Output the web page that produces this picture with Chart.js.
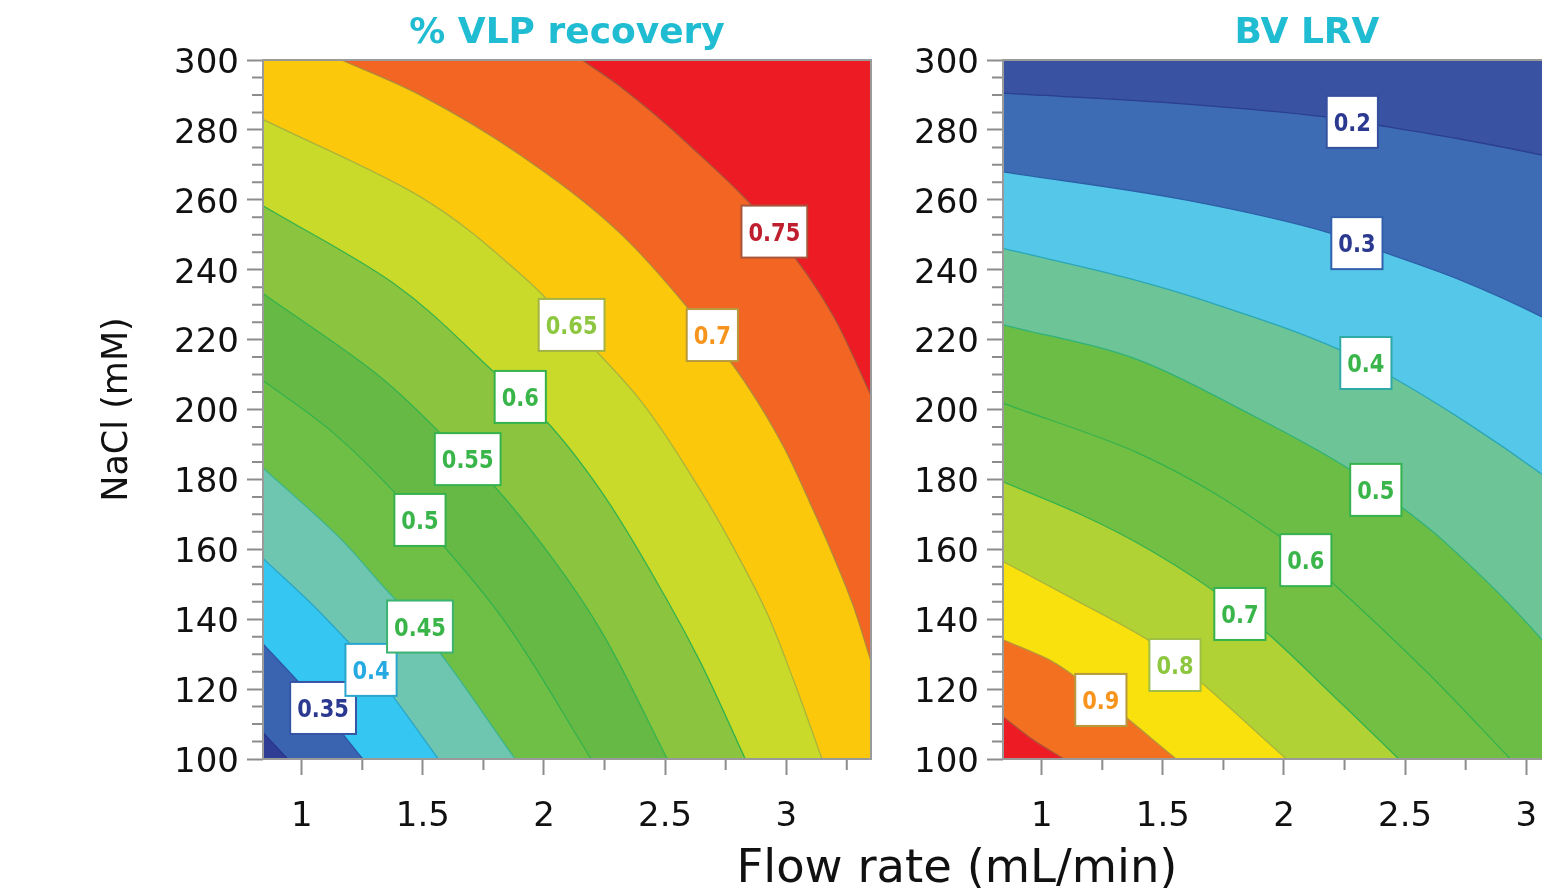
<!DOCTYPE html>
<html>
<head>
<meta charset="utf-8">
<title>VLP recovery / BV LRV contours</title>
<script src="https://cdn.jsdelivr.net/npm/chart.js@4.4.1/dist/chart.umd.min.js"></script>
<style>
    html, body { margin: 0; padding: 0; background: #fff; overflow: hidden; width: 1542px; height: 888px; }
    #vlp-chart { position: absolute; left: 0; top: 0; }
    #bv-chart { position: absolute; left: 880px; top: 0; }
    #flow-title {
        position: absolute; left: 957px; top: 843px; transform: translateX(-50%);
        font: 46.5px 'DejaVu Sans', Verdana, sans-serif; line-height: 46px;
        white-space: nowrap; color: #111;
    }
</style>
</head>
<body>
<canvas id="vlp-chart" width="880" height="888"></canvas>
<canvas id="bv-chart" width="760" height="888"></canvas>
<div id="flow-title">Flow rate (mL/min)</div>
<script>
(function () {
    'use strict';

    // Axis ranges: flow rate (mL/min) and NaCl (mM)
    const flowMin = 0.84, flowMax = 3.35;
    const naclMin = 100, naclMax = 300;

    // % VLP recovery contour lines, points as [flow rate, NaCl]
    const vlp030 = [[0.84, 107.5], [0.942, 100]];
    const vlp035 = [[0.84, 132.9], [0.979, 122.6], [1.084, 114.3], [1.252, 100]];
    const vlp040 = [[0.84, 157.4], [1.075, 142.0], [1.286, 126.0], [1.564, 100]];
    const vlp045 = [[0.84, 183.3], [1.165, 162.7], [1.323, 150.4], [1.488, 137.8], [1.881, 100]];
    const vlp050 = [[0.84, 208.3], [1.117, 194.1], [1.488, 168.4], [1.819, 141.2], [2.195, 100]];
    const vlp055 = [[0.84, 233.2], [1.323, 209.4], [1.683, 185.6], [1.790, 178.4], [2.038, 157.1], [2.232, 137.1], [2.509, 100]];
    const vlp060 = [[0.84, 258.3], [1.377, 236.2], [1.798, 210.4], [2.005, 197.0], [2.232, 177.0], [2.508, 145.5], [2.645, 127.8], [2.831, 100]];
    const vlp065 = [[0.84, 283.0], [1.488, 260.9], [1.929, 237.1], [2.112, 224.2], [2.397, 202.7], [2.645, 177.0], [2.783, 160.4], [2.921, 141.7], [3.030, 122.6], [3.148, 100]];
    const vlp070 = [[1.165, 300], [1.488, 290.0], [1.902, 272.8], [2.315, 250.4], [2.590, 229.4], [2.824, 208.4], [2.989, 189.4], [3.099, 173.2], [3.196, 157.9], [3.278, 143.6], [3.35, 128.0]];
    const vlp075 = [[2.158, 300], [2.315, 292.4], [2.604, 275.4], [2.947, 251.4], [3.196, 226.6], [3.35, 204.1]];

    // BV LRV contour lines, points as [flow rate, NaCl]
    const bv020 = [[0.84, 290.5], [1.599, 287.4], [2.173, 283.7], [2.383, 281.4], [2.726, 277.4], [3.065, 272.8], [3.35, 268.2]];
    const bv030 = [[0.84, 268.0], [1.599, 259.9], [2.190, 250.5], [2.409, 245.1], [2.727, 237.1], [3.065, 226.5], [3.35, 215.6]];
    const bv040 = [[0.84, 246.1], [1.383, 237.1], [1.665, 231.3], [2.233, 217.0], [2.446, 209.3], [2.751, 196.4], [3.065, 181.5], [3.35, 166.4]];
    const bv050 = [[0.84, 224.2], [1.398, 214.2], [1.826, 199.9], [2.275, 182.7], [2.483, 172.2], [2.654, 162.7], [3.065, 134.1], [3.35, 108.3]];
    const bv060 = [[0.84, 201.8], [1.396, 187.6], [1.983, 163.6], [2.202, 150.3], [2.594, 124.6], [2.935, 100]];
    const bv070 = [[0.84, 179.3], [1.157, 170.1], [1.446, 159.8], [1.818, 142.6], [2.222, 116.9], [2.474, 100]];
    const bv080 = [[0.84, 156.5], [1.114, 146.4], [1.440, 134.0], [1.549, 128.3], [2.010, 100]];
    const bv090 = [[0.84, 134.1], [1.033, 128.3], [1.252, 117.2], [1.555, 100]];
    const bv100 = [[0.84, 112.1], [0.966, 105.4], [1.092, 100]];

    // Contour labels (text and anchor in data units)
    const vlpLabels = ['0.35', '0.4', '0.45', '0.5', '0.55', '0.6', '0.65', '0.7', '0.75'];
    const vlpLabelFlow = [1.088, 1.286, 1.488, 1.488, 1.685, 1.902, 2.114, 2.695, 2.951];
    const vlpLabelNacl = [114.6, 125.5, 137.9, 168.4, 185.8, 203.6, 224.2, 221.3, 250.9];
    const bvLabels = ['0.2', '0.3', '0.4', '0.5', '0.6', '0.7', '0.8', '0.9'];
    const bvLabelFlow = [2.282, 2.301, 2.338, 2.379, 2.090, 1.818, 1.550, 1.244];
    const bvLabelNacl = [282.3, 247.6, 213.3, 177.0, 156.9, 141.5, 126.9, 116.9];

    // Styles
    const FONT = "'DejaVu Sans', Verdana, sans-serif";
    const TICK_GRAY = '#8c8c8c';
    const TITLE_COLOR = '#20bcd2';
    const NAVY = '#2b3990', SKY = '#27aae1', GREEN = '#39b54a', LIME = '#8dc63f', ORANGE = '#f7941d', CRIMSON = '#be1e2d';

    const vlpLabelColor = [NAVY, SKY, GREEN, GREEN, GREEN, GREEN, LIME, ORANGE, CRIMSON];
    const vlpLabelBorder = ['#3556a6', '#2aa5cc', '#3cb371', '#35b24c', '#35b24c', '#35b24c', '#a4b443', '#b79a3e', '#a8553c'];
    const bvLabelColor = [NAVY, NAVY, GREEN, GREEN, GREEN, GREEN, LIME, ORANGE];
    const bvLabelBorder = ['#34509f', '#3160ad', '#2fa9a6', '#35b24c', '#35b24c', '#35b24c', '#9fbf45', '#b79a3e'];

    function toPoints(arr) {
        return arr.map(p => ({ x: p[0], y: p[1] }));
    }

    function lineBase(points, fillColor, lineColor) {
        return {
            data: toPoints(points),
            backgroundColor: fillColor,
            borderColor: lineColor,
            borderWidth: 1.3,
            pointRadius: 0,
            pointHoverRadius: 0,
            cubicInterpolationMode: 'monotone'
        };
    }

    // Contour that runs from the left edge to the bottom edge:
    // fill the lower-left side, towards the left edge
    function lowerLeft(points, fillColor, lineColor) {
        return Object.assign(lineBase(points, fillColor, lineColor), {
            indexAxis: 'y',
            fill: { value: flowMin }
        });
    }

    // Contour that reaches the right edge: fill everything above it
    function upperSide(points, fillColor, lineColor) {
        return Object.assign(lineBase(points, fillColor, lineColor), {
            indexAxis: 'x',
            fill: 'end'
        });
    }

    function scalesFor(yWidth, showTitle) {
        const tickFont = { family: FONT, size: 34 };
        const grid = { drawOnChartArea: false, drawTicks: true, tickLength: 16, tickWidth: 2, tickColor: TICK_GRAY };
        return {
            x: {
                type: 'linear',
                min: flowMin,
                max: flowMax,
                ticks: {
                    stepSize: 0.5, includeBounds: false, padding: 22, color: '#111', font: tickFont,
                    maxRotation: 0, autoSkip: false,
                    callback: v => String(+v.toFixed(2))
                },
                grid: grid,
                border: { display: false },
                afterFit: s => { s.height = 129; }
            },
            y: {
                type: 'linear',
                min: naclMin,
                max: naclMax,
                ticks: { stepSize: 20, includeBounds: false, padding: 8, labelOffset: 4, color: '#111', font: tickFont, autoSkip: false },
                grid: grid,
                border: { display: false },
                title: {
                    display: showTitle,
                    text: 'NaCl (mM)',
                    color: '#111',
                    font: { family: FONT, size: 35 },
                    padding: { top: 97, bottom: 0 }
                },
                afterFit: s => { s.width = yWidth; }
            }
        };
    }

    // Background, frame, minor ticks, contour labels and panel title
    const panelPlugin = {
        id: 'panel',
        beforeDatasetsDraw(chart, args, opts) {
            const { ctx, chartArea: a } = chart;
            ctx.save();
            ctx.fillStyle = opts.background;
            ctx.fillRect(a.left, a.top, a.right - a.left, a.bottom - a.top);
            ctx.restore();
        },
        afterDraw(chart, args, opts) {
            const { ctx, chartArea: a } = chart;
            const xs = chart.scales.x, ys = chart.scales.y;
            ctx.save();

            // minor ticks
            ctx.strokeStyle = TICK_GRAY;
            ctx.lineWidth = 2;
            ctx.beginPath();
            for (let v = naclMin + 5; v < naclMax; v += 5) {
                if (v % 20 === 0) continue;
                const py = ys.getPixelForValue(v);
                ctx.moveTo(a.left - 11, py);
                ctx.lineTo(a.left, py);
            }
            for (let v = 1.25; v < flowMax; v += 0.5) {
                const px = xs.getPixelForValue(v);
                ctx.moveTo(px, a.bottom);
                ctx.lineTo(px, a.bottom + 11);
            }
            ctx.stroke();

            // frame
            ctx.strokeStyle = '#9a9a9a';
            ctx.lineWidth = 2;
            ctx.strokeRect(a.left, a.top, a.right - a.left, a.bottom - a.top);

            // contour labels (bold, slightly condensed)
            const squeeze = 0.84;
            ctx.font = 'bold 25px ' + FONT;
            ctx.textAlign = 'center';
            ctx.textBaseline = 'alphabetic';
            opts.labels.forEach((text, i) => {
                const cx = xs.getPixelForValue(opts.flow[i]);
                const cy = ys.getPixelForValue(opts.nacl[i]);
                const w = ctx.measureText(text).width * squeeze + 14;
                const h = 52;
                ctx.fillStyle = '#fff';
                ctx.fillRect(cx - w / 2, cy - h / 2, w, h);
                ctx.strokeStyle = opts.borders[i];
                ctx.lineWidth = 2;
                ctx.strokeRect(cx - w / 2, cy - h / 2, w, h);
                ctx.save();
                ctx.translate(cx, cy + 9);
                ctx.scale(squeeze, 1);
                ctx.fillStyle = opts.colors[i];
                ctx.fillText(text, 0, 0);
                ctx.restore();
            });

            // panel title
            ctx.fillStyle = TITLE_COLOR;
            ctx.font = 'bold 36px ' + FONT;
            ctx.fillText(opts.title, (a.left + a.right) / 2, 43);
            ctx.restore();
        }
    };

    function makeChart(canvasId, datasets, cfg) {
        return new Chart(document.getElementById(canvasId), {
            type: 'line',
            data: { datasets: datasets.reverse() },
            options: {
                responsive: false,
                devicePixelRatio: 1,
                animation: false,
                events: [],
                layout: { padding: { left: 0, top: 60, right: cfg.padRight, bottom: 0 } },
                scales: scalesFor(cfg.yWidth, cfg.yTitle),
                plugins: {
                    legend: { display: false },
                    tooltip: { enabled: false },
                    panel: cfg.panel
                }
            },
            plugins: [panelPlugin]
        });
    }

    // % VLP recovery (datasets listed bottom layer first)
    makeChart('vlp-chart', [
        lowerLeft(vlp065, '#c9da2a', '#a9b53a'),
        lowerLeft(vlp060, '#8bc540', '#35b24c'),
        lowerLeft(vlp055, '#67b946', '#35b24c'),
        lowerLeft(vlp050, '#6fbe45', '#35b24c'),
        lowerLeft(vlp045, '#6ec6b0', '#3bb58a'),
        lowerLeft(vlp040, '#36c6f2', '#29a6c8'),
        lowerLeft(vlp035, '#3a64b0', '#2e57a3'),
        lowerLeft(vlp030, '#2f3d94', '#283586'),
        upperSide(vlp070, '#f26522', '#b0893a'),
        upperSide(vlp075, '#ed1c24', '#a8503a')
    ], {
        padRight: 9,
        yWidth: 263,
        yTitle: true,
        panel: {
            title: '% VLP recovery',
            background: '#fcc80b',
            labels: vlpLabels, flow: vlpLabelFlow, nacl: vlpLabelNacl,
            colors: vlpLabelColor, borders: vlpLabelBorder
        }
    });

    // BV LRV (datasets listed bottom layer first)
    makeChart('bv-chart', [
        lowerLeft(bv060, '#72bf44', '#35b24c'),
        lowerLeft(bv070, '#b1d235', '#35b24c'),
        lowerLeft(bv080, '#f8e10c', '#a8b53a'),
        lowerLeft(bv090, '#f37021', '#b8963a'),
        lowerLeft(bv100, '#ed1c24', '#b0503a'),
        upperSide(bv050, '#6dc496', '#2fb27a'),
        upperSide(bv040, '#55c8e9', '#2aa7b8'),
        upperSide(bv030, '#3d6cb4', '#2d5fa8'),
        upperSide(bv020, '#3952a2', '#2b3f90')
    ], {
        padRight: 29,
        yWidth: 123,
        yTitle: false,
        panel: {
            title: 'BV LRV',
            background: '#6cbd45',
            labels: bvLabels, flow: bvLabelFlow, nacl: bvLabelNacl,
            colors: bvLabelColor, borders: bvLabelBorder
        }
    });
})();
</script>
</body>
</html>
